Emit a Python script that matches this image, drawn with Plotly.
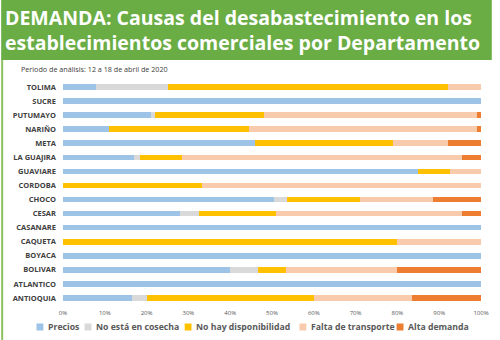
import plotly.graph_objects as go

departamentos = ["TOLIMA", "SUCRE", "PUTUMAYO", "NARIÑO", "META", "LA GUAJIRA",
                 "GUAVIARE", "CORDOBA", "CHOCO", "CESAR", "CASANARE", "CAQUETA",
                 "BOYACA", "BOLIVAR", "ATLANTICO", "ANTIOQUIA"]

precios =            [8, 100, 21, 11, 46, 17, 85, 0, 50.5, 28, 100, 0, 100, 40, 100, 16.5]
no_cosecha =         [17, 0, 1, 0, 0, 1.5, 0, 0, 3, 4.5, 0, 0, 0, 6.7, 0, 3.5]
no_disponibilidad =  [67, 0, 26, 33.5, 33, 10, 7.5, 33.3, 17.5, 18.5, 0, 80, 0, 6.6, 0, 40]
falta_transporte =   [8, 0, 51, 54.5, 13, 67, 7.5, 66.7, 17.5, 44.5, 0, 20, 0, 26.7, 0, 23.5]
alta_demanda =       [0, 0, 1, 1, 8, 4.5, 0, 0, 11.5, 4.5, 0, 0, 0, 20, 0, 16.5]

series = [
    ("Precios", precios, "#9DC3E6"),
    ("No está en cosecha", no_cosecha, "#D9D9D9"),
    ("No hay disponibilidad", no_disponibilidad, "#FFC000"),
    ("Falta de transporte", falta_transporte, "#F8CBAD"),
    ("Alta demanda", alta_demanda, "#ED7D31"),
]

tick_vals = [i / 10 for i in range(11)]
tick_text = [f"{i * 10}%" for i in range(11)]

# left edge (in px) of each legend swatch along the bottom row
legend_left = [36, 85, 187, 304, 403]

fig = go.Figure()
for name, vals, color in series:
    fig.add_trace(go.Bar(
        name=name,
        y=departamentos,
        x=[v / 100 for v in vals],
        orientation="h",
        marker=dict(color=color, line=dict(width=0)),
        showlegend=False,
    ))

W, H = 500, 340
ml, mr, mt, mb = 63, 11, 80, 35
pw, ph = W - ml - mr, H - mt - mb


def px_x(x):
    return (x - ml) / pw


def px_y(y):
    return (H - mb - y) / ph


shapes = [
    dict(type="rect", xref="paper", yref="paper",
         x0=px_x(0), x1=px_x(W), y0=px_y(60), y1=px_y(0),
         fillcolor="#6AAD45", line=dict(width=0), layer="below"),
    dict(type="line", xref="paper", yref="paper",
         x0=px_x(1), x1=px_x(1), y0=px_y(60), y1=px_y(H),
         line=dict(color="#8CC063", width=2)),
]

annotations = [
    dict(text="DEMANDA: Causas del desabastecimiento en los<br>"
              "establecimientos comerciales por Departamento",
         xref="paper", yref="paper", x=px_x(2), y=px_y(30),
         xanchor="left", yanchor="middle", align="left", showarrow=False,
         font=dict(size=19.5, color="white", family="Open Sans", weight="bold")),
    dict(text="Periodo de análisis: 12 a 18 de abril de 2020",
         xref="paper", yref="paper", x=px_x(18), y=px_y(69),
         xanchor="left", yanchor="middle", showarrow=False,
         font=dict(size=7.2, color="#404040")),
]

legend_y = 327
for (name, _, color), left in zip(series, legend_left):
    shapes.append(dict(type="rect", xref="paper", yref="paper",
                       x0=px_x(left), x1=px_x(left + 7),
                       y0=px_y(legend_y + 3.5), y1=px_y(legend_y - 3.5),
                       fillcolor=color, line=dict(width=0)))
    annotations.append(dict(text=name, xref="paper", yref="paper",
                            x=px_x(left + 10), y=px_y(legend_y),
                            xanchor="left", yanchor="middle", showarrow=False,
                            font=dict(size=8.7, color="#595959", weight="bold")))

fig.update_layout(
    width=W, height=H,
    margin=dict(l=ml, r=mr, t=mt, b=mb),
    paper_bgcolor="white", plot_bgcolor="white",
    barmode="stack", bargap=0.6,
    font=dict(family="Open Sans", color="#404040"),
    showlegend=False,
    xaxis=dict(range=[0, 1], tickvals=tick_vals, ticktext=tick_text,
               showgrid=False, zeroline=False, showline=False,
               tickfont=dict(size=6, color="#595959"), ticks="", ticklen=0,
               ticklabelstandoff=3),
    yaxis=dict(categoryorder="array", categoryarray=departamentos[::-1],
               showgrid=False, zeroline=False, showline=False, ticks="",
               tickfont=dict(size=7.5, color="#404040", weight="bold"),
               ticklabelstandoff=6),
    shapes=shapes,
    annotations=annotations,
)

fig.write_html("out.html")
